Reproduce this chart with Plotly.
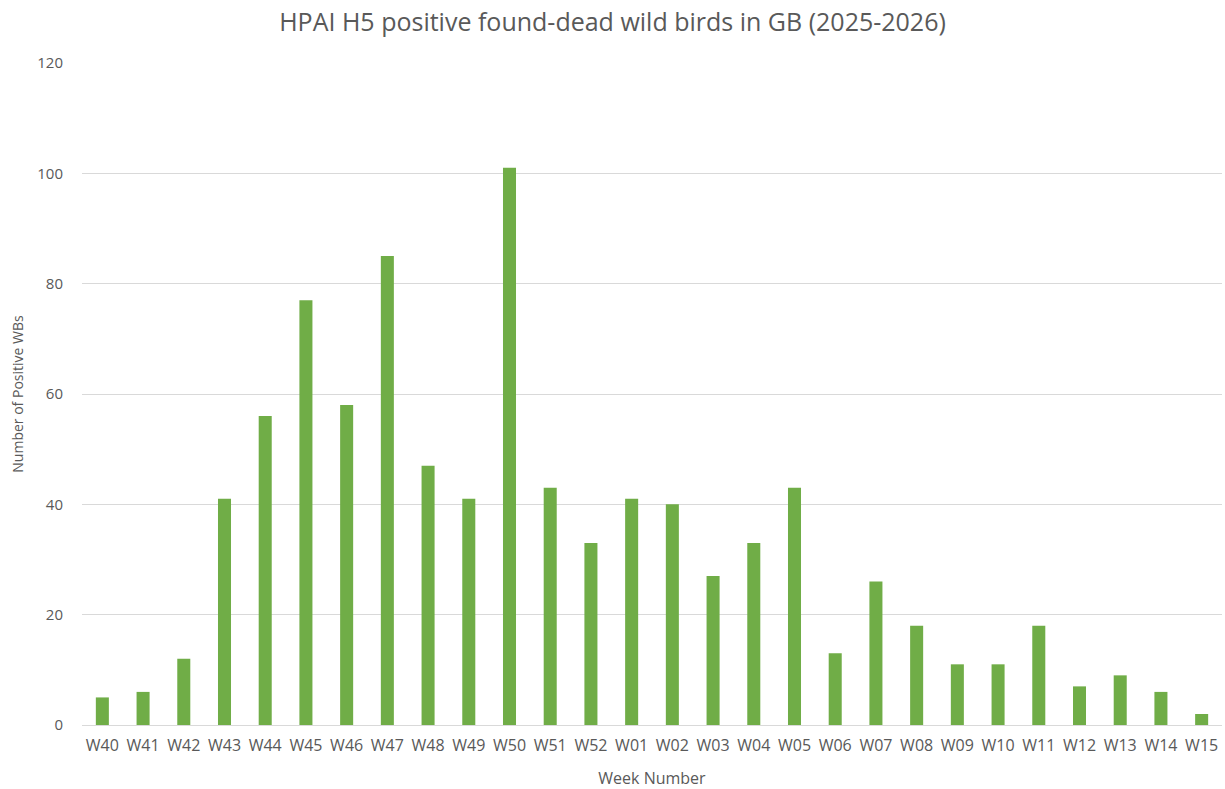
import plotly.graph_objects as go

weeks = ["W40", "W41", "W42", "W43", "W44", "W45", "W46", "W47", "W48", "W49",
         "W50", "W51", "W52", "W01", "W02", "W03", "W04", "W05", "W06", "W07",
         "W08", "W09", "W10", "W11", "W12", "W13", "W14", "W15"]
positives = [5, 6, 12, 41, 56, 77, 58, 85, 47, 41,
             101, 43, 33, 41, 40, 27, 33, 43, 13, 26,
             18, 11, 11, 18, 7, 9, 6, 2]
y_ticks = [0, 20, 40, 60, 80, 100, 120]

text_color = "#595959"
font_family = "Open Sans, Noto Sans, sans-serif"

fig = go.Figure(
    go.Bar(x=weeks, y=positives, marker=dict(color="#70AD47", line=dict(width=0)))
)

fig.update_layout(
    width=1225,
    height=789,
    paper_bgcolor="white",
    plot_bgcolor="white",
    margin=dict(l=82, r=3, t=63, b=64),
    bargap=0.68,
    showlegend=False,
    font=dict(family=font_family, color=text_color, size=14),
    title=dict(
        text="HPAI H5 positive found-dead wild birds in GB (2025-2026)",
        x=0.5, xref="container", xanchor="center",
        y=0.972, yanchor="middle",
        font=dict(size=25, color=text_color, family=font_family),
    ),
    xaxis=dict(
        title=dict(text="Week Number", font=dict(size=16, color=text_color), standoff=18),
        showgrid=False,
        showline=True, linecolor="#d9d9d9", linewidth=1,
        ticks="", tickfont=dict(size=16, color=text_color),
        ticklabelstandoff=6,
    ),
    yaxis=dict(
        title=dict(text="Number of Positive WBs", font=dict(size=14, color=text_color), standoff=10),
        range=[0, 120], tickvals=y_ticks,
        showgrid=True, gridcolor="#d9d9d9", gridwidth=1,
        zeroline=False, showline=False,
        ticks="", tickfont=dict(size=15, color=text_color),
        ticklabelstandoff=18,
    ),
)

fig.write_html("out.html")
